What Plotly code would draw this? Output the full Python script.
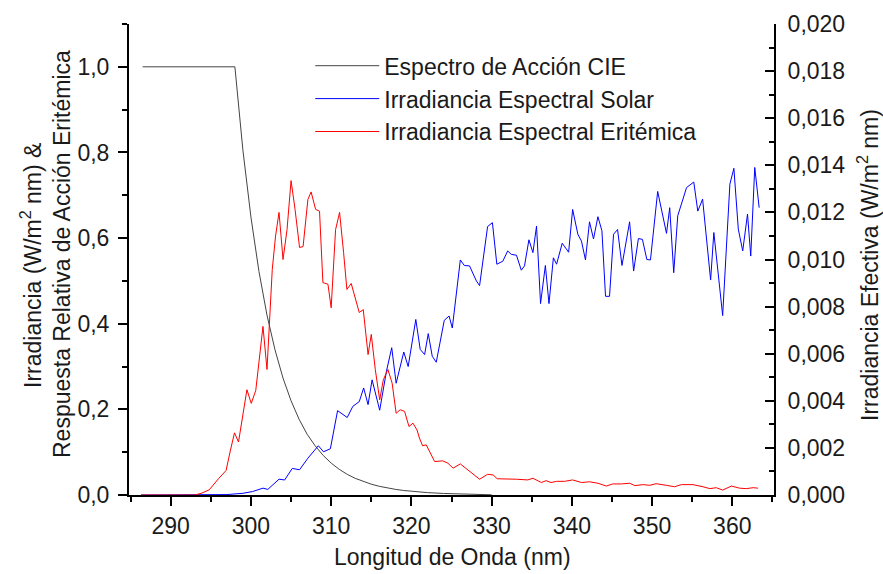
import plotly.graph_objects as go

# ---------------- data ----------------
# CIE erythemal action spectrum (relative response, left axis)
cie_wl = [286.5, 298, 299, 300, 301, 302, 303, 304, 305, 306, 307, 308, 309, 310,
          311, 312, 313, 314, 315, 316, 317, 318, 319, 320, 322, 324, 326, 328, 330]
cie_val = [1.0, 1.0, 0.805, 0.649, 0.522, 0.420, 0.339, 0.273, 0.220, 0.177, 0.142,
           0.115, 0.0925, 0.0745, 0.060, 0.0483, 0.0389, 0.0313, 0.0252, 0.0203,
           0.0164, 0.0132, 0.0106, 0.00855, 0.00555, 0.0036, 0.00234, 0.00151, 0.0005]

# Solar spectral irradiance (W/m2 nm, left axis)
solar_wl = [286.3, 294.5, 297.0, 299.0, 300.2, 301.5, 302.1, 303.5, 304.2, 305.15,
            306.06, 307.1, 308.4, 309.05, 309.9, 310.8, 312.0, 312.7, 313.5, 314.05,
            314.6, 315.1, 316.05, 316.9, 317.55, 318.1, 318.5, 319.05, 319.6, 320.55,
            321.1, 321.65, 322.1, 322.6, 323.1, 324.1, 324.7, 325.1, 326.1, 326.6,
            327.25, 328.1, 328.5, 329.5, 330.1, 330.65, 331.4, 332.0, 332.45, 333.1,
            333.7, 334.1, 334.65, 335.15, 335.6, 336.1, 336.7, 337.15, 337.7, 338.1,
            338.8, 339.6, 340.1, 340.75, 341.2, 341.7, 342.2, 342.7, 343.25, 343.75,
            344.2, 344.7, 345.2, 345.7, 346.25, 347.2, 347.7, 348.3, 348.8, 349.35,
            349.8, 350.7, 351.8, 352.2, 352.7, 353.2, 354.3, 355.2, 355.7, 356.3,
            357.3, 357.7, 358.8, 359.7, 360.2, 360.75, 361.3, 361.9, 362.3, 362.8,
            363.35]
solar_val = [0.0, 0.0, 0.001, 0.004, 0.008, 0.016, 0.013, 0.037, 0.035, 0.062,
             0.059, 0.086, 0.115, 0.101, 0.108, 0.197, 0.181, 0.207, 0.218, 0.25,
             0.211, 0.269, 0.198, 0.29, 0.344, 0.261, 0.293, 0.334, 0.30, 0.41,
             0.34, 0.328, 0.377, 0.324, 0.31, 0.408, 0.418, 0.39, 0.549, 0.536,
             0.535, 0.50, 0.489, 0.627, 0.636, 0.539, 0.546, 0.57, 0.562, 0.56,
             0.525, 0.535, 0.596, 0.566, 0.628, 0.447, 0.536, 0.447, 0.554, 0.539,
             0.588, 0.567, 0.667, 0.609, 0.593, 0.549, 0.638, 0.598, 0.65, 0.617,
             0.464, 0.464, 0.609, 0.62, 0.536, 0.638, 0.523, 0.599, 0.597, 0.55,
             0.549, 0.709, 0.611, 0.671, 0.519, 0.652, 0.718, 0.731, 0.663, 0.691,
             0.502, 0.613, 0.419, 0.726, 0.763, 0.621, 0.57, 0.656, 0.558, 0.765,
             0.671]

# Erythemal (effective) spectral irradiance (W/m2 nm, right axis)
ery_wl = [286.3, 293.0, 293.8, 294.8, 296.0, 296.9, 297.45, 297.95, 298.45, 299.5,
          300.04, 300.6, 301.5, 302.0, 302.66, 303.07, 303.5, 304.0, 304.5, 305.0,
          305.5, 306.06, 306.5, 307.1, 307.5, 308.06, 308.55, 308.97, 309.6, 310.0,
          310.55, 311.05, 311.55, 311.96, 312.5, 313.05, 313.5, 314.0, 314.6, 315.0,
          315.5, 316.05, 316.5, 317.07, 317.6, 318.1, 318.6, 319.15, 319.7, 320.2,
          320.7, 321.0, 321.4, 321.85, 322.9, 323.9, 324.55, 325.2, 326.1, 328.5,
          329.5, 330.2, 330.7, 333.1, 334.5, 335.15, 335.65, 336.2, 336.8, 337.4,
          338.1, 339.1, 340.1, 341.2, 342.2, 343.25, 344.3, 345.1, 346.2, 347.2,
          347.85, 348.9, 349.7, 350.5, 351.8, 352.8, 353.65, 355.1, 356.35, 357.2,
          358.0, 358.8, 359.9, 360.9, 361.75, 362.6, 363.2]
ery_val = [0.0, 0.0, 0.00007, 0.00022, 0.00071, 0.00104, 0.00191, 0.00264, 0.00225, 0.00447,
           0.00389, 0.00444, 0.00716, 0.00533, 0.00958, 0.0110, 0.0120, 0.0100, 0.01127, 0.01335,
           0.01213, 0.01051, 0.01055, 0.01255, 0.01287, 0.01213, 0.01205, 0.00902, 0.00895, 0.00795,
           0.01127, 0.0120, 0.01029, 0.00873, 0.00898, 0.00831, 0.00775, 0.00787, 0.00596, 0.00682,
           0.00533, 0.00404, 0.00489, 0.00533, 0.00475, 0.00347, 0.00362, 0.00355, 0.00291, 0.00305,
           0.00276, 0.00242, 0.00209, 0.00213, 0.00142, 0.00145, 0.00135, 0.00114, 0.00132, 0.00067,
           0.00088, 0.00085, 0.00069, 0.00067, 0.00064, 0.00071, 0.00061, 0.00053, 0.00061, 0.00053,
           0.00058, 0.00058, 0.00064, 0.00053, 0.00056, 0.0005, 0.00038, 0.00047, 0.00047, 0.0005,
           0.0004, 0.00044, 0.00041, 0.00048, 0.00041, 0.00035, 0.00044, 0.00044, 0.00035, 0.00027,
           0.00031, 0.00021, 0.00038, 0.00029, 0.00027, 0.00031, 0.00029]

names = ["Espectro de Acción CIE", "Irradiancia Espectral Solar",
         "Irradiancia Espectral Eritémica"]

x_title = "Longitud de Onda (nm)"
yl_title_1 = "Irradiancia (W/m<sup>2</sup> nm) &"
yl_title_2 = "Respuesta Relativa de Acción Eritémica"
yr_title = "Irradiancia Efectiva (W/m<sup>2</sup> nm)"

# ---------------- figure ----------------
FONT = "Liberation Sans, Arial, Helvetica, sans-serif"
TXT = "#1a1a1a"

fig = go.Figure()
fig.add_trace(go.Scatter(x=cie_wl, y=cie_val, mode="lines", name=names[0],
                         line=dict(color="#444444", width=1)))
fig.add_trace(go.Scatter(x=solar_wl, y=solar_val, mode="lines", name=names[1],
                         line=dict(color="#0000ff", width=1)))
fig.add_trace(go.Scatter(x=ery_wl, y=ery_val, mode="lines", name=names[2],
                         line=dict(color="#ff0000", width=1), yaxis="y2"))

XR = [284.8, 365.2]
fig.update_layout(
    width=883, height=574,
    margin=dict(l=129, r=109, t=24, b=79),
    paper_bgcolor="white", plot_bgcolor="white",
    separators=",.",
    font=dict(family=FONT, size=23, color=TXT),
    showlegend=True,
    legend=dict(x=0.281, y=0.957, xanchor="left", yanchor="top",
                bgcolor="rgba(0,0,0,0)", borderwidth=0,
                font=dict(size=23, family=FONT, color=TXT),
                itemwidth=64, tracegroupgap=0),
    xaxis=dict(range=XR, tick0=290, dtick=10, ticks="outside", ticklen=9,
               tickwidth=1.5, tickcolor="black", showline=True, linecolor="black",
               linewidth=2, showgrid=False, zeroline=False,
               tickfont=dict(size=23),
               minor=dict(dtick=5, tick0=285, ticks="outside", ticklen=5,
                          tickwidth=1.5, tickcolor="black", showgrid=False)),
    xaxis2=dict(range=XR, overlaying="x", side="top", anchor="y",
                tick0=290, dtick=10, ticks="inside", ticklen=9, tickwidth=1.5,
                tickcolor="black", showticklabels=False, showline=True,
                linecolor="black", linewidth=2, showgrid=False, zeroline=False,
                minor=dict(dtick=5, tick0=285, ticks="inside", ticklen=6,
                           tickwidth=1.5, tickcolor="black", showgrid=False)),
    yaxis=dict(range=[0, 1.1], tick0=0, dtick=0.2, tickformat=".1f",
               ticks="outside", ticklen=9, tickwidth=1.5, tickcolor="black",
               showline=True, linecolor="black", linewidth=2, showgrid=False,
               zeroline=False, tickfont=dict(size=23), ticklabelstandoff=4,
               minor=dict(dtick=0.1, ticks="outside", ticklen=5, tickwidth=1.5,
                          tickcolor="black", showgrid=False)),
    yaxis2=dict(range=[0, 0.020], overlaying="y", side="right", anchor="x",
                tick0=0, dtick=0.002, tickformat=".3f", ticks="inside",
                ticklen=9, tickwidth=1.5, tickcolor="black", showline=True,
                linecolor="black", linewidth=2, showgrid=False, zeroline=False,
                tickfont=dict(size=23), ticklabelstandoff=7,
                minor=dict(dtick=0.001, ticks="inside", ticklen=5, tickwidth=1.5,
                           tickcolor="black", showgrid=False)),
)

# axis titles as annotations (pixel-precise placement)
PW = 883 - 129 - 109
PH = 574 - 24 - 79
def px(xp):
    return (xp - 129) / PW
def py(yp):
    return (495 - yp) / PH

fig.add_annotation(text=x_title, xref="paper", yref="paper", x=px(452), y=py(557),
                   xanchor="center", yanchor="middle", showarrow=False,
                   font=dict(size=23, family=FONT, color=TXT))
fig.add_annotation(text=yl_title_1, xref="paper", yref="paper", x=px(31), y=py(266),
                   xanchor="center", yanchor="middle", showarrow=False, textangle=-90,
                   font=dict(size=23, family=FONT, color=TXT))
fig.add_annotation(text=yl_title_2, xref="paper", yref="paper", x=px(62), y=py(254),
                   xanchor="center", yanchor="middle", showarrow=False, textangle=-90,
                   font=dict(size=23, family=FONT, color=TXT))
fig.add_annotation(text=yr_title, xref="paper", yref="paper", x=px(868), y=py(265),
                   xanchor="center", yanchor="middle", showarrow=False, textangle=-90,
                   font=dict(size=23, family=FONT, color=TXT))

fig.write_html("out.html", config={"displayModeBar": False},
               post_script="document.body.style.margin='0px';document.body.style.overflow='hidden';")
